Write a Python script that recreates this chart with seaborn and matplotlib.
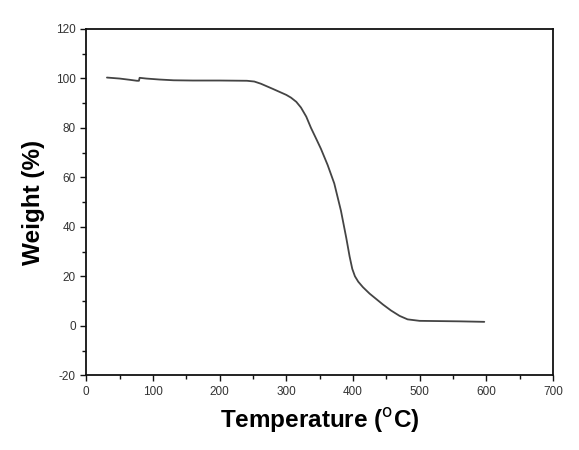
import numpy as np
import pandas as pd
import seaborn as sns
import matplotlib.pyplot as plt
from matplotlib.ticker import MultipleLocator

# TGA curve
temperature = [31, 50, 65, 76, 79, 80, 90, 110, 131, 160, 200, 241, 252, 262, 280,
               300, 307, 315, 322, 330, 337, 345, 352, 362, 372, 382, 390, 395, 399,
               403, 408, 415, 425, 435, 445, 457, 470, 482, 500, 530, 560, 597]
weight = [100.3, 99.9, 99.4, 99.0, 99.0, 100.2, 99.9, 99.5, 99.2, 99.1, 99.1, 99.0, 98.7, 97.8, 95.7,
          93.3, 92.2, 90.5, 88.2, 84.5, 80.0, 75.5, 71.5, 65.0, 57.5, 46.5, 35.5, 28.0, 23.0,
          20.0, 17.8, 15.6, 13.0, 10.8, 8.6, 6.2, 4.0, 2.6, 2.0, 1.9, 1.8, 1.6]

df = pd.DataFrame({"T": temperature, "W": weight})

sns.set_theme(style="ticks")
plt.rcParams["font.family"] = ["Liberation Sans", "DejaVu Sans"]
plt.rcParams["axes.unicode_minus"] = False

fig = plt.figure(figsize=(5.79, 4.5), dpi=100)
ax = fig.add_axes([0.149, 0.166, 0.806, 0.770])

sns.lineplot(data=df, x="T", y="W", ax=ax, color="#444444", linewidth=1.3)

ax.set_xlim(0, 700)
ax.set_ylim(-20, 120)
ax.xaxis.set_major_locator(MultipleLocator(100))
ax.xaxis.set_minor_locator(MultipleLocator(50))
ax.yaxis.set_major_locator(MultipleLocator(20))
ax.yaxis.set_minor_locator(MultipleLocator(10))
ax.tick_params(which="major", direction="out", length=4, width=1, labelsize=8.5,
               colors="#111111", labelcolor="#333333")
ax.tick_params(which="minor", direction="out", length=3, width=1, colors="#111111")
for s in ax.spines.values():
    s.set_linewidth(1.3)
    s.set_color("#111111")

ax.set_xlabel("Temperature ($^{\\mathrm{o}}$C)", fontsize=17.5, fontweight="bold",
              labelpad=6, color="black")
ax.set_ylabel("Weight (%)", fontsize=17.5, fontweight="bold", labelpad=8, color="black")

fig.savefig("out.png", dpi=100)
